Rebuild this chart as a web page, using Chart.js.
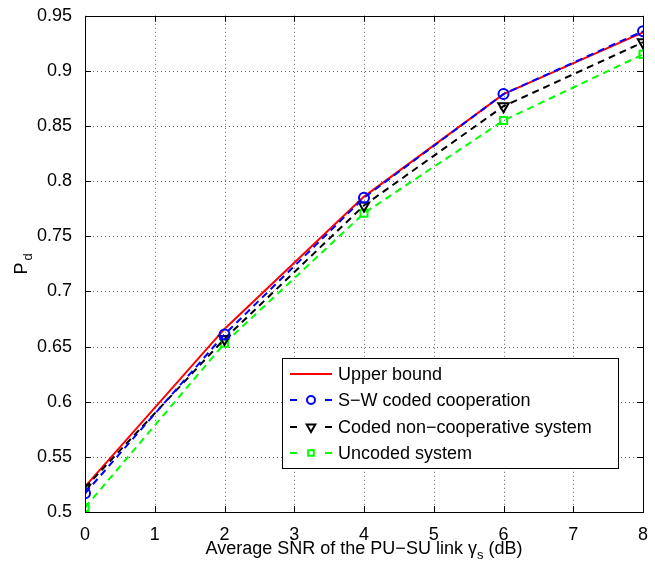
<!DOCTYPE html>
<html>
<head>
<meta charset="utf-8">
<script src="https://cdn.jsdelivr.net/npm/chart.js@4.4.0/dist/chart.umd.min.js"></script>
<style>
  body { margin: 0; background: #fff; }
  canvas { display: block; }
</style>
</head>
<body>
<canvas id="pdChart" width="655" height="565"></canvas>
<script>
// values
const snrDb = [0, 2, 4, 6, 8];
const upperBound = [0.523, 0.666, 0.786, 0.879, 0.935];
const swCoded = [0.517, 0.661, 0.785, 0.879, 0.936];
const codedNonCoop = [0.522, 0.657, 0.778, 0.868, 0.926];
const uncoded = [0.504, 0.653, 0.771, 0.855, 0.915];

const xTicks = [0, 1, 2, 3, 4, 5, 6, 7, 8];
const yTicks = [0.5, 0.55, 0.6, 0.65, 0.7, 0.75, 0.8, 0.85, 0.9, 0.95];
const yTickLabels = ['0.5', '0.55', '0.6', '0.65', '0.7', '0.75', '0.8', '0.85', '0.9', '0.95'];

const seriesNames = ['Upper bound', 'S\u2212W coded cooperation', 'Coded non\u2212cooperative system', 'Uncoded system'];

const FONT = "'Liberation Sans', Arial, Helvetica, sans-serif";

function toPoints(ys) {
    return snrDb.map((x, i) => ({ x: x, y: ys[i] }));
}

const datasets = [
    {
        label: seriesNames[0], data: toPoints(upperBound),
        borderColor: '#ff0000', borderWidth: 2, pointRadius: 0, order: 4
    },
    {
        label: seriesNames[1], data: toPoints(swCoded),
        borderColor: '#0000ff', borderWidth: 2, borderDash: [7, 5],
        pointStyle: 'circle', pointRadius: 5, pointBorderWidth: 2,
        pointBorderColor: '#0000ff', pointBackgroundColor: 'rgba(0,0,0,0)', order: 1
    },
    {
        label: seriesNames[2], data: toPoints(codedNonCoop),
        borderColor: '#000000', borderWidth: 2, borderDash: [7, 5],
        pointStyle: 'triangle', pointRotation: 180, pointRadius: 6, pointBorderWidth: 2,
        pointBorderColor: '#000000', pointBackgroundColor: 'rgba(0,0,0,0)', order: 2
    },
    {
        label: seriesNames[3], data: toPoints(uncoded),
        borderColor: '#00ff00', borderWidth: 2, borderDash: [7, 5],
        pointStyle: 'rect', pointRadius: 5, pointBorderWidth: 2,
        pointBorderColor: '#00ff00', pointBackgroundColor: 'rgba(0,0,0,0)', order: 3
    }
];

// dotted grid, box frame and inward ticks like matlab
const framePlugin = {
    id: 'frame',
    beforeDatasetsDraw(chart) {
        const ctx = chart.ctx;
        const a = chart.chartArea;
        const xs = chart.scales.x, ys = chart.scales.y;
        ctx.save();
        ctx.strokeStyle = '#666';
        ctx.lineWidth = 1;
        ctx.setLineDash([1, 3]);
        xTicks.forEach(v => {
            if (v === xTicks[0] || v === xTicks[xTicks.length - 1]) return;
            const px = Math.round(xs.getPixelForValue(v)) + 0.5;
            ctx.beginPath(); ctx.moveTo(px, a.top); ctx.lineTo(px, a.bottom); ctx.stroke();
        });
        yTicks.forEach(v => {
            if (v === yTicks[0] || v === yTicks[yTicks.length - 1]) return;
            const py = Math.round(ys.getPixelForValue(v)) + 0.5;
            ctx.beginPath(); ctx.moveTo(a.left, py); ctx.lineTo(a.right, py); ctx.stroke();
        });
        ctx.restore();
    },
    afterDatasetsDraw(chart) {
        const ctx = chart.ctx;
        const a = chart.chartArea;
        const xs = chart.scales.x, ys = chart.scales.y;
        const tl = 6;
        ctx.save();
        ctx.strokeStyle = '#000';
        ctx.lineWidth = 1;
        ctx.setLineDash([]);
        ctx.beginPath();
        xTicks.forEach(v => {
            const px = Math.round(xs.getPixelForValue(v)) + 0.5;
            ctx.moveTo(px, a.bottom); ctx.lineTo(px, a.bottom - tl);
            ctx.moveTo(px, a.top); ctx.lineTo(px, a.top + tl);
        });
        yTicks.forEach(v => {
            const py = Math.round(ys.getPixelForValue(v)) + 0.5;
            ctx.moveTo(a.left, py); ctx.lineTo(a.left + tl, py);
            ctx.moveTo(a.right, py); ctx.lineTo(a.right - tl, py);
        });
        ctx.stroke();
        ctx.strokeRect(Math.round(a.left) + 0.5, Math.round(a.top) + 0.5,
            Math.round(a.right - a.left), Math.round(a.bottom - a.top));
        ctx.restore();
    }
};

// legend box and axis titles with subscripts
const extrasPlugin = {
    id: 'extras',
    afterDraw(chart) {
        const ctx = chart.ctx;
        const a = chart.chartArea;
        ctx.save();

        // legend
        const bx = 282, by = 358, bw = 336, bh = 110;
        ctx.fillStyle = '#fff';
        ctx.fillRect(bx, by, bw, bh);
        ctx.strokeStyle = '#000';
        ctx.lineWidth = 1;
        ctx.strokeRect(bx + 0.5, by + 0.5, bw, bh);
        const rowY = [374, 400, 427, 453];
        ctx.font = '18px ' + FONT;
        ctx.textBaseline = 'middle';
        ctx.textAlign = 'left';
        datasets.forEach((ds, i) => {
            const y = rowY[i];
            ctx.strokeStyle = ds.borderColor;
            ctx.lineWidth = 2;
            if (ds.borderDash) {
                ctx.setLineDash([]);
                ctx.beginPath();
                ctx.moveTo(290, y); ctx.lineTo(297, y);
                ctx.moveTo(325, y); ctx.lineTo(332, y);
                ctx.stroke();
                ctx.fillStyle = 'rgba(0,0,0,0)';
                ctx.strokeStyle = ds.pointBorderColor;
                Chart.helpers.drawPoint(ctx, {
                    pointStyle: ds.pointStyle, rotation: ds.pointRotation || 0,
                    radius: ds.pointRadius - 1, borderWidth: 2
                }, 311, y);
            } else {
                ctx.setLineDash([]);
                ctx.beginPath();
                ctx.moveTo(290, y); ctx.lineTo(332, y);
                ctx.stroke();
            }
            ctx.fillStyle = '#000';
            ctx.fillText(ds.label, 338, y + 1);
        });

        // x title
        ctx.fillStyle = '#000';
        ctx.textBaseline = 'alphabetic';
        const main = 'Average SNR of the PU\u2212SU link \u03b3';
        const tail = ' (dB)';
        ctx.font = '18px ' + FONT;
        const w1 = ctx.measureText(main).width;
        const w3 = ctx.measureText(tail).width;
        ctx.font = '13px ' + FONT;
        const w2 = ctx.measureText('s').width;
        let x0 = (a.left + a.right) / 2 - (w1 + w2 + w3) / 2;
        const base = 554;
        ctx.font = '18px ' + FONT;
        ctx.fillText(main, x0, base);
        ctx.font = '13px ' + FONT;
        ctx.fillText('s', x0 + w1, base + 5);
        ctx.font = '18px ' + FONT;
        ctx.fillText(tail, x0 + w1 + w2, base);

        // y title
        ctx.translate(27, (a.top + a.bottom) / 2);
        ctx.rotate(-Math.PI / 2);
        ctx.font = '18px ' + FONT;
        const wp = ctx.measureText('P').width;
        ctx.font = '13px ' + FONT;
        const wd = ctx.measureText('d').width;
        const sx = -(wp + wd + 2) / 2;
        ctx.font = '18px ' + FONT;
        ctx.fillText('P', sx, 0);
        ctx.font = '13px ' + FONT;
        ctx.fillText('d', sx + wp + 2, 5);
        ctx.restore();
    }
};

new Chart(document.getElementById('pdChart').getContext('2d'), {
    type: 'line',
    data: { datasets: datasets },
    options: {
        responsive: false,
        devicePixelRatio: 1,
        animation: false,
        layout: { padding: { left: 0, right: 12, top: 13, bottom: 0 } },
        plugins: { legend: { display: false }, tooltip: { enabled: false } },
        elements: { line: { tension: 0, fill: false } },
        scales: {
            x: {
                type: 'linear', min: 0, max: 8,
                afterBuildTicks: s => { s.ticks = xTicks.map(v => ({ value: v })); },
                afterFit: s => { s.height = 53; },
                grid: { display: false },
                border: { display: false },
                ticks: { color: '#000', padding: 4, font: { family: FONT, size: 18 } }
            },
            y: {
                type: 'linear', min: 0.5, max: 0.95,
                afterBuildTicks: s => { s.ticks = yTicks.map(v => ({ value: v })); },
                afterFit: s => { s.width = 85; },
                grid: { display: false },
                border: { display: false },
                ticks: {
                    color: '#000', padding: 5, font: { family: FONT, size: 18 },
                    callback: (v) => yTickLabels[yTicks.findIndex(t => Math.abs(t - v) < 1e-9)]
                }
            }
        }
    },
    plugins: [framePlugin, extrasPlugin]
});
</script>
</body>
</html>
